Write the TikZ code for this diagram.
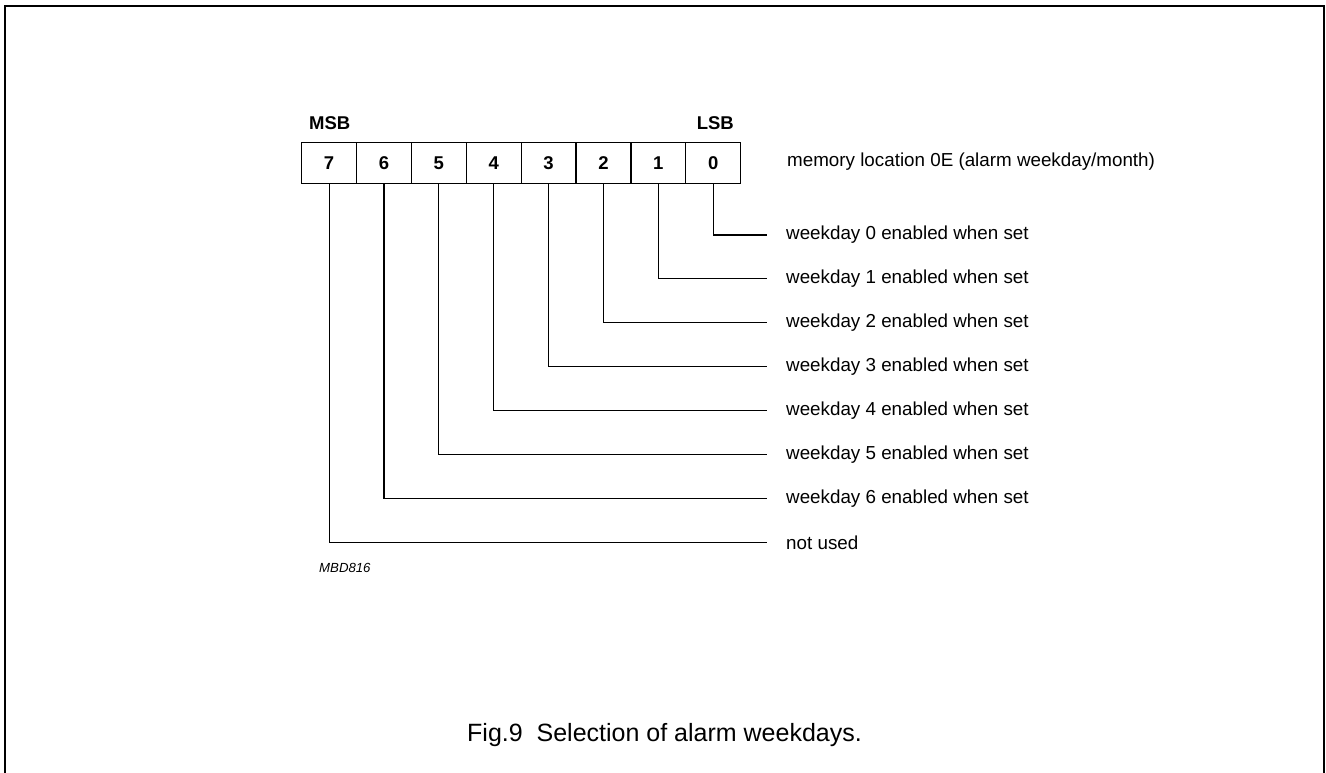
\documentclass[tikz,border=0pt]{standalone}
\usepackage{fontspec}
\setmainfont{Liberation Sans}
\begin{document}
\begin{tikzpicture}[x=1pt,y=-1pt,
  cell/.style={draw,line width=1.3pt,minimum width=54.875pt,minimum height=41pt,inner sep=0pt,anchor=north west,font=\fontsize{18.5}{20}\selectfont\bfseries},
  lbl/.style={anchor=west,inner xsep=19pt,inner ysep=0pt,font=\fontsize{18.8}{20}\selectfont},
  conn/.style={line width=1.1pt},
  hdr/.style={inner sep=0pt,font=\fontsize{18.5}{20}\selectfont\bfseries}]
\useasboundingbox (0,0) rectangle (1326,773);
\draw[line width=2pt] (4.5,790) -- (4.5,6) -- (1324,6) -- (1324,790);
% register cells
\foreach \b [count=\k from 0] in {7,6,5,4,3,2,1,0}
  \node[cell] (b\b) at (301+54.875*\k,142) {\b};
\node[hdr,anchor=west] (msb) at (309,123) {MSB};
\node[hdr,anchor=east] (lsb) at (734,123) {LSB};
\node[anchor=west,inner sep=0pt,font=\fontsize{18.8}{20}\selectfont] (mem) at (787,162) {memory location 0E (alarm weekday/month)};
% labels
\foreach \b in {0,...,6}
  \node[lbl,yshift=-1pt] (l\b) at (767,234+43.93*\b) {weekday \b{} enabled when set};
\node[lbl,yshift=-1pt] (l7) at (767,541.5) {not used};
\foreach \b in {0,...,7}
  \draw[conn] (b\b.south) |- (l\b.west);
\node[anchor=west,inner sep=0pt,font=\fontsize{13.2}{15}\selectfont\itshape] (code) at (319,568) {MBD816};
\node[inner sep=0pt,font=\fontsize{25}{28}\selectfont] (cap) at (664.5,735) {Fig.9\ \ Selection of alarm weekdays.};
\end{tikzpicture}
\end{document}
